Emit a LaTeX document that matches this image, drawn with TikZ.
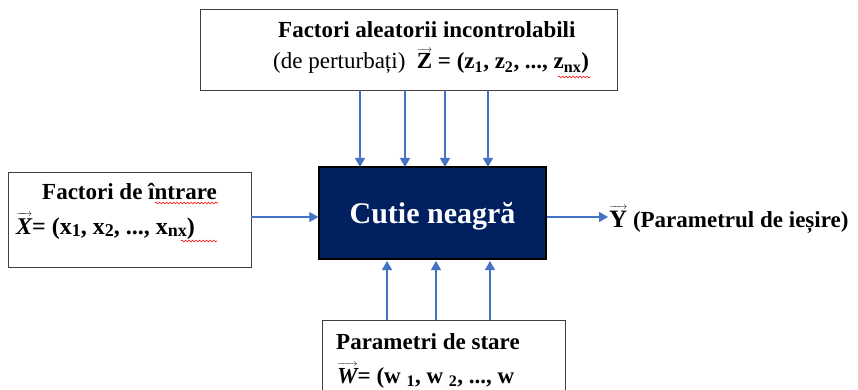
\documentclass[tikz,border=0pt]{standalone}
\usepackage{fontspec}
\setmainfont{Liberation Serif}
\usetikzlibrary{arrows.meta,decorations.pathmorphing}
\definecolor{navy}{HTML}{002060}
\definecolor{arrowblue}{HTML}{4472C4}
\definecolor{boxgray}{HTML}{404040}
\newcommand{\vecb}[1]{\setbox0\hbox{#1}\rlap{\raisebox{\dimexpr\ht0+1.5pt\relax}[0pt][0pt]{\hbox to \wd0{\fontsize{10}{10}\selectfont\rightarrowfill}}}\box0\relax}
\newcommand{\lsub}[1]{\raisebox{-2.5pt}{\fontsize{18}{18}\selectfont #1}}
\tikzset{
  framebox/.style={draw=boxgray,line width=0.9pt},
  flow/.style={draw=arrowblue,line width=1.1pt,-{Triangle[width=10pt,length=9pt]}},
  txt/.style={anchor=base west,inner sep=0pt,font=\fontsize{23}{27}\selectfont},
  spell/.style={draw=red,line width=0.6pt,decorate,decoration={snake,amplitude=0.9pt,segment length=3.5pt}}
}
\begin{document}
\begin{tikzpicture}[x=1pt,y=-1pt]
\useasboundingbox (0,0) rectangle (858,390);
% boxes
\draw[framebox] (200,9) rectangle (617,90);
\draw[framebox] (8,172) rectangle (251,267);
\draw[framebox] (322,320) -- (565,320) -- (565,392) (322,320) -- (322,392);
\node[draw=black,line width=1.4pt,fill=navy,minimum width=227pt,minimum height=92pt,inner sep=0pt] (box) at (432.5,213) {};
\node[anchor=base,text=white,inner sep=0pt,font=\fontsize{30}{34}\selectfont\bfseries] (boxlabel) at (432.5,223) {Cutie neagră};
% texts top
\node[txt,font=\fontsize{23}{27}\selectfont\bfseries] (z1) at (278,38) {Factori aleatorii incontrolabili};
\node[txt] (z2) at (273,69) {(de perturbați)\ \ \textbf{\vecb{\bfseries Z} = (z\textsubscript{1}, z\textsubscript{2}, ..., z\textsubscript{nx})}};
% texts left
\node[txt,font=\fontsize{23}{27}\selectfont\bfseries] (x1) at (42,199) {Factori de întrare};
\node[txt,font=\fontsize{24}{28}\selectfont\bfseries] (x2) at (16,234) {\vecb{\bfseries\itshape X}= (x\lsub{1}, x\lsub{2}, ..., x\lsub{nx})};
% texts bottom
\node[txt,font=\fontsize{23}{27}\selectfont\bfseries] (w1) at (336,349) {Parametri de stare};
\node[txt,font=\fontsize{23}{27}\selectfont\bfseries] (w2) at (337,383) {\vecb{\bfseries\itshape W}= (w \textsubscript{1}, w \textsubscript{2}, ..., w};
% output
\node[txt,font=\fontsize{23}{27}\selectfont\bfseries] (y) at (609,227) {\vecb{\fontsize{25}{27}\selectfont\bfseries Y} (Parametrul de ieșire)};
% spell-check underlines
\draw[spell] (558,77) -- (590,77);
\draw[spell] (155,203) -- (218,203);
\draw[spell] (181,241) -- (217,241);
% connectors
\coordinate (t1) at (360,90); \coordinate (t2) at (405,90);
\coordinate (t3) at (445,90); \coordinate (t4) at (488,90);
\draw[flow] (t1) -- (360,167);
\draw[flow] (t2) -- (405,167);
\draw[flow] (t3) -- (445,167);
\draw[flow] (t4) -- (488,167);
\coordinate (b1) at (387,320); \coordinate (b2) at (436,320); \coordinate (b3) at (490,320);
\draw[flow] (b1) -- (387,261);
\draw[flow] (b2) -- (436,261);
\draw[flow] (b3) -- (490,261);
\draw[flow] (251,217) -- (box.west |- 0,217);
\draw[flow] (box.east |- 0,217) -- (608,217);
\end{tikzpicture}
\end{document}
